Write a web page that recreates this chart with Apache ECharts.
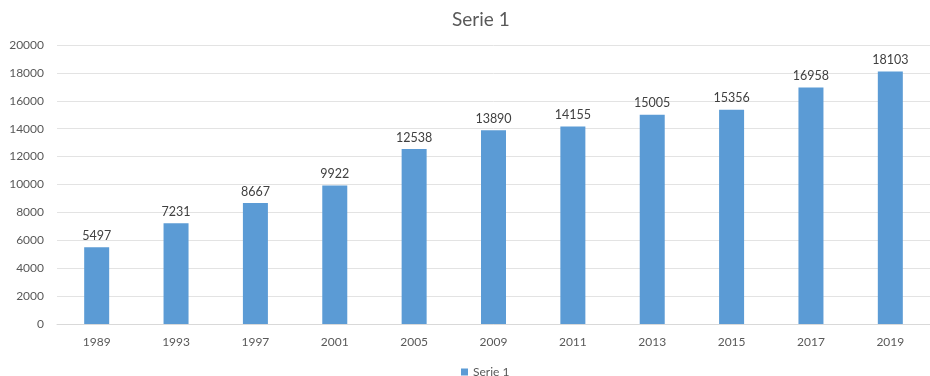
<!DOCTYPE html>
<html><head><meta charset="utf-8">
<script src="https://cdn.jsdelivr.net/npm/echarts@6/dist/echarts.min.js"></script>
<style>html,body{margin:0;padding:0;background:#fff}#c{width:930px;height:376px}</style>
</head><body><div id="c"></div>
<script>
const categories = ['1989','1993','1997','2001','2005','2009','2011','2013','2015','2017','2019'];
const values = [5497,7231,8667,9922,12538,13890,14155,15005,15356,16958,18103];
const seriesName = 'Serie 1';
const yTicks = {min:0, max:20000, interval:2000};
const chart = echarts.init(document.getElementById('c'));
const font = 'Lato, "Open Sans", sans-serif';
chart.setOption({
  animation:false,
  title:{text:seriesName, left:447, top:5, textStyle:{fontFamily:font, fontSize:19, fontWeight:'normal', color:'#595959'}},
  legend:{data:[seriesName], left:456, top:361, itemWidth:7, itemHeight:7, itemGap:4, icon:'rect',
    textStyle:{fontFamily:font, fontSize:12, color:'#595959'}},
  grid:{left:57, top:45, width:880, height:279, containLabel:false},
  xAxis:{type:'category', data:categories,
    axisLine:{lineStyle:{color:'#d9d9d9'}}, axisTick:{show:false},
    axisLabel:{fontFamily:font, fontSize:12, color:'#595959', margin:12}},
  yAxis:{type:'value', min:yTicks.min, max:yTicks.max, interval:yTicks.interval,
    axisLine:{show:false}, axisTick:{show:false},
    splitLine:{lineStyle:{color:'#e3e3e3'}},
    axisLabel:{fontFamily:font, fontSize:12, color:'#595959', margin:13, formatter:v=>String(v)}},
  series:[{name:seriesName, type:'bar', data:values, barWidth:25,
    itemStyle:{color:'#5b9bd5'},
    label:{show:true, position:'top', distance:5, fontFamily:font, fontSize:12.5, color:'#404040'}}]
});
</script></body></html>
